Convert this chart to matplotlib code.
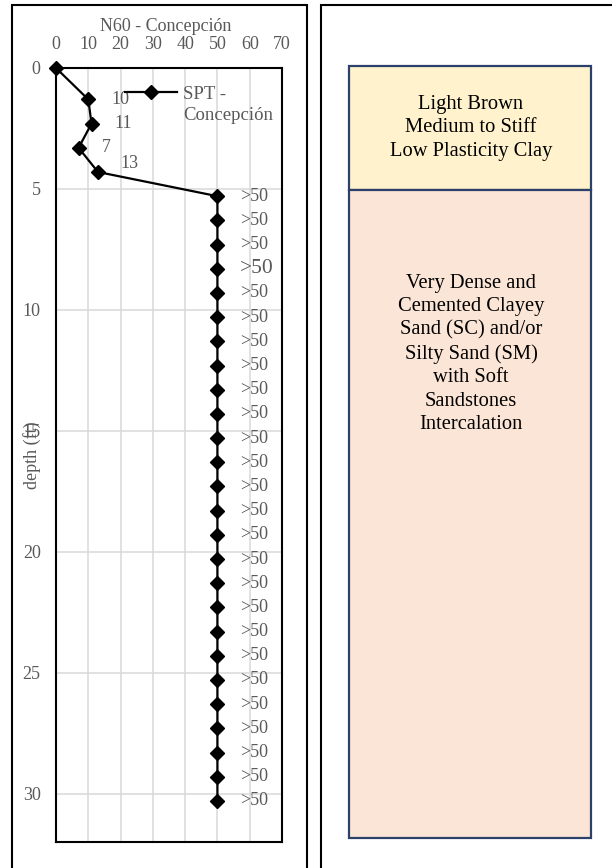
import matplotlib
matplotlib.use('Agg')
import matplotlib.pyplot as plt
from matplotlib.patches import Rectangle
from matplotlib.lines import Line2D

# ── data ──────────────────────────────────────────────────────────────────────
depth_ft = [0, 1.3, 2.3, 3.3, 4.3] + [d + 0.3 for d in range(5, 31)]
n60 = [0, 10, 11, 7, 13] + [50] * 26
n60_labels = ['', '10', '11', '7', '13'] + ['>50'] * 26
x_ticks = [0, 10, 20, 30, 40, 50, 60, 70]
y_ticks = [0, 5, 10, 15, 20, 25, 30]

layers = ['Light Brown\nMedium to Stiff\nLow Plasticity Clay',
          'Very Dense and\nCemented Clayey\nSand (SC) and/or\nSilty Sand (SM)\nwith Soft\nSandstones\nIntercalation']
layer_colors = ['#FFF2CC', '#FBE5D6']

# ── figure ────────────────────────────────────────────────────────────────────
W, H = 612, 868
plt.rcParams['font.family'] = ['Liberation Serif', 'DejaVu Serif']
fig = plt.figure(figsize=(W / 100, H / 100), dpi=100)
fig.patch.set_facecolor('white')

def fx(px): return px / W
def fy(py): return 1 - py / H

def frame(x0, y0, x1, y1, **kw):
    fig.add_artist(Rectangle((fx(x0), fy(y1)), fx(x1) - fx(x0), fy(y0) - fy(y1),
                             transform=fig.transFigure, **kw))

# panel outlines
frame(12, 5, 307, 875, fill=False, ec='black', lw=1.5)
frame(321, 5, 620, 875, fill=False, ec='black', lw=1.5)

# ── SPT profile ───────────────────────────────────────────────────────────────
GRAY = '#595959'
FS = 13
ax = fig.add_axes([fx(56), fy(842), fx(282) - fx(56), fy(68) - fy(842)])
ax.plot(n60, depth_ft, color='black', lw=1.6, marker='D', ms=7.5,
        clip_on=False, zorder=4)
for x, y, s in zip(n60, depth_ft, n60_labels):
    if not s:
        continue
    dy = 6 if s == '13' else 0
    fs = 15.5 if (s == '>50' and abs(y - 8.3) < 0.01) else FS
    ax.annotate(s, (x, y), xytext=(16.5, dy), textcoords='offset points',
                ha='left', va='center', color=GRAY, fontsize=fs)

ax.set_xlim(0, 70)
ax.set_ylim(32, 0)
ax.set_xticks(x_ticks)
ax.set_yticks(y_ticks)
ax.xaxis.tick_top()
ax.xaxis.set_label_position('top')
ax.tick_params(length=0, pad=11, labelsize=FS, labelcolor=GRAY)
ax.grid(True, color='#D9D9D9', lw=1.1)
ax.set_axisbelow(True)
for sp in ax.spines.values():
    sp.set_color('black')
    sp.set_linewidth(1.5)

ax.set_xlabel('N60 - Concepción', fontsize=FS, color=GRAY, va='center')
ax.xaxis.set_label_coords(0.4845, 1.053)
ax.set_ylabel('depth (ft)', fontsize=FS, color=GRAY, va='center')
ax.yaxis.set_label_coords(-0.106, 0.5)

# legend drawn inside the plot area
ax.add_line(Line2D([0.305, 0.42, 0.535], [0.969, 0.969, 0.969], transform=ax.transAxes,
                   color='black', lw=1.6, marker='D', ms=7.5, markevery=[1],
                   clip_on=False, zorder=5))
ax.text(0.562, 0.966, 'SPT -', transform=ax.transAxes, ha='left', va='center',
        color=GRAY, fontsize=13.5)
ax.text(0.562, 0.939, 'Concepción', transform=ax.transAxes, ha='left', va='center',
        color=GRAY, fontsize=13.5)

# ── soil description column ───────────────────────────────────────────────────
box_edges = [66, 190, 838]
text_y = [128, 354]
for i, (txt, col) in enumerate(zip(layers, layer_colors)):
    frame(349, box_edges[i], 591, box_edges[i + 1], fc=col, ec='#2B4169', lw=1.6)
    fig.text(fx(471), fy(text_y[i]), txt, ha='center', va='center',
             fontsize=14.8, color='black', linespacing=1.31)

fig.savefig('out.png', dpi=100)
